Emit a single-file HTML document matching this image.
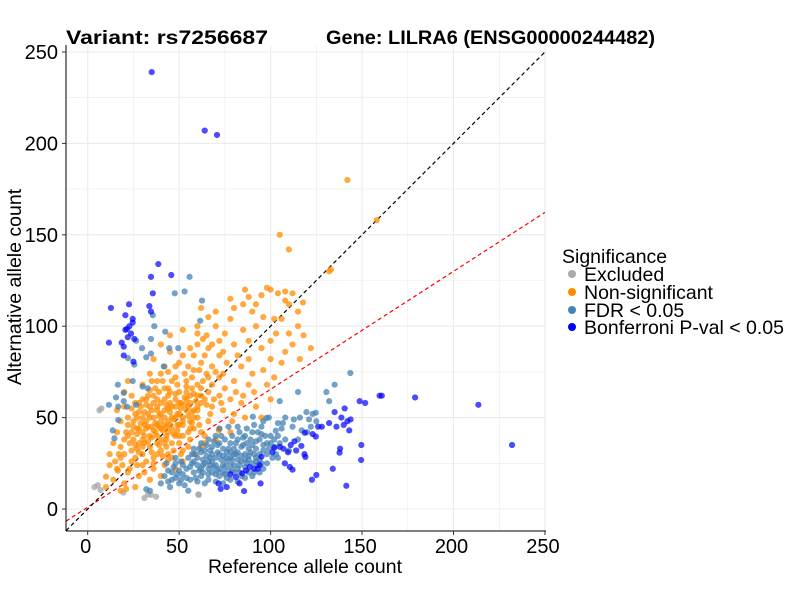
<!DOCTYPE html>
<html><head><meta charset="utf-8"><style>
body{margin:0;background:#fff;}
svg text{font-family:"Liberation Sans",Arial,sans-serif;}
</style></head><body>
<svg id="chart" width="800" height="600" xmlns="http://www.w3.org/2000/svg">
<rect width="800" height="600" fill="#fff"/>
<g id="grid"></g>
<g id="lines"></g>
<g id="points"></g>
<g id="axes"></g>
<text x="66" y="44" font-size="19" font-weight="bold" textLength="202" lengthAdjust="spacingAndGlyphs">Variant: rs7256687</text>
<text x="326" y="44" font-size="19" font-weight="bold" textLength="329" lengthAdjust="spacingAndGlyphs">Gene: LILRA6 (ENSG00000244482)</text>
<text x="305" y="573" font-size="19.5" text-anchor="middle">Reference allele count</text>
<text transform="translate(21,287) rotate(-90)" font-size="19.5" text-anchor="middle">Alternative allele count</text>
<g>
<text x="562" y="263" font-size="19.5">Significance</text>
<g><circle cx="572" cy="274" r="4" fill="#a9a9a9"/><text x="584" y="281" font-size="19.5">Excluded</text></g>
<g><circle cx="572" cy="292" r="4" fill="#ff8c00"/><text x="584" y="299" font-size="19.5">Non-significant</text></g>
<g><circle cx="572" cy="310" r="4" fill="#4682b4"/><text x="584" y="317" font-size="19.5">FDR &lt; 0.05</text></g>
<g><circle cx="572" cy="327" r="4" fill="#0000ff"/><text x="584" y="334" font-size="19.5">Bonferroni P-val &lt; 0.05</text></g>
</g>
</svg>
<script>
const xTicks=[0,50,100,150,200,250];
const yTicks=[0,50,100,150,200,250];
const excluded=[[6.4,54],[7.5,55],[3.7,12],[5.5,13],[7,10.4],[19.5,9],[31,6],[33,8],[34.6,7.7],[37.4,6.7],[60.7,7.7],[60.5,8]];
const nonsig=[[142,180],[158,158],[105,150],[110,142],[133,131],[132,130],[98,121],[100,120],[104,118],[108,119],[95,117],[88,116],[85,112],[80,110],[90,108],[96,105],[102,104],[110,112],[115,100],[103,96],[92,100],[85,98],[78,104],[75,96],[70,100],[65,95],[72,92],[80,90],[88,92],[95,88],[100,82],[108,86],[82,84],[74,86],[66,88],[60,90],[58,84],[62,80],[68,78],[76,80],[84,78],[90,74],[96,76],[102,72],[88,68],[80,70],[72,72],[65,74],[55,78],[50,80],[45,86],[40,90],[42,78],[48,72],[54,70],[60,68],[66,64],[72,62],[78,60],[84,58],[92,56],[100,60],[95,50],[86,50],[80,52],[74,54],[68,56],[62,58],[56,62],[50,64],[44,66],[38,70],[34,74],[30,68],[36,62],[42,60],[48,56],[54,54],[60,50],[66,48],[72,44],[78,42],[70,38],[64,40],[58,44],[52,46],[46,50],[40,52],[34,56],[28,58],[24,62],[20,56],[26,52],[32,48],[38,46],[44,42],[50,40],[56,38],[62,34],[58,30],[52,32],[46,36],[40,38],[34,40],[28,44],[22,46],[18,48],[16,42],[22,40],[28,36],[34,34],[40,32],[46,28],[52,26],[48,22],[42,24],[36,28],[30,30],[24,32],[18,34],[14,36],[12,30],[18,28],[24,26],[30,24],[36,22],[40,18],[34,16],[28,18],[22,20],[16,22],[12,24],[14,16],[20,14],[26,12],[18,10],[10,12],[30,42],[36,50],[42,54],[48,60],[32,60],[38,56],[44,48],[50,52],[56,58],[62,62],[68,68],[74,74],[40,44],[46,44],[52,50],[58,54],[35,45],[43,40],[27,50],[33,52],[39,64],[45,58],[51,58],[57,66],[63,70],[69,60],[75,66],[81,64],[25,38],[31,36],[37,42],[43,34],[49,46],[55,42],[61,46],[67,52],[73,58],[79,48],[85,62],[91,64],[20,30],[26,28],[32,26],[38,36],[44,30],[50,36],[56,48],[62,42],[45,95],[52,98],[60,100],[66,105],[78,115],[86,120],[92,112],[118,95],[122,88],[112,90],[106,80],[100,92],[20,64],[16,54],[22,70],[44,75],[36,82],[62,110],[70,108],[60,96],[116,82],[98,68],[88,82],[10,17.7],[16.5,21],[21,11],[117.7,113],[112,118],[108,114],[106,104],[115,108],[110,96],[71.7,43],[64,36],[38,30],[30,34],[42,46],[48,40],[54,60],[60,56],
[25,45],[27,41],[29,47],[31,53],[33,45],[35,39],[37,47],[39,51],[41,43],[43,57],[45,53],[47,49],[49,43],[51,55],[53,61],[55,51],[57,47],[59,59],[26,35],[28,31],[30,38],[32,44],[34,50],[36,58],[38,40],[40,48],[42,36],[44,62],[46,56],[48,50],[50,46],[52,40],[54,64],[56,44],[58,50],[60,62],[24,42],[29,56],[33,62],[37,66],[41,70],[45,64],[49,68],[53,74],[57,72],[61,76],[27,33],[31,40],[35,31],[39,35],[43,38],[47,32],[51,30],[55,34],[23,36],[21,42],[25,48],[30,50],[35,54],[40,58],[45,46],[50,58],[55,56],[39,45],[42,50],[36,43],[33,37],[47,41],[52,48],[57,53],[44,55],[38,60],[31,46],[27,44],[34,65],[46,70],[42,66],[48,63],[54,67],[62,66],[66,72],[70,75],[64,60],[58,63],[60,54],[65,57],[20,38],[17,30],[15,26],[19,24],[23,22],[27,24],[31,20],[44,27],[36,25],[41,29],[38,54],[43,45],[49,52],[53,57],[32,57],[28,53],[26,58],[22,50],[24,55],[30,60],[35,70],[40,74],[48,78],[52,84],[56,88],[64,84],[68,90],[72,84],[58,76],[63,93]];
const fdr=[[55.7,127],[47.6,118],[53,119],[62.5,114],[61.5,103],[35.6,106],[36.4,100],[42.4,97],[34.6,93],[29.7,88],[44.6,88],[49.5,88],[34.6,85],[32,83],[26.5,92],[22,82.6],[25.5,79],[41.6,78],[24.6,70],[16.5,68],[30,67],[32.8,66],[15.5,61],[19.7,63.5],[19.7,59],[11.6,57],[16.7,56],[21.5,56],[26.5,57],[16.7,48.7],[13.7,43],[14.6,38.7],[32,10.8],[34,10],
[105,59],[115,64],[130.5,64],[135,68],[143.6,74.4],[132,59],[119.6,53],[124.7,52.7],[123,52],[112.7,49],[116,50],[121,49],[106.7,47],[102.8,42.8],[97.8,49.8],[90.3,50.5],[82,45],[117,43],[122,45],
[42,18],[44,15],[46,20],[48,17],[50,14],[52,19],[54,22],[56,16],[58,20],[60,24],[62,18],[64,14],[66,22],[68,26],[70,19],[72,30],[74,24],[76,17],[78,28],[80,33],[82,22],[84,26],[86,30],[88,20],[90,35],[92,28],[94,38],[96,32],[98,25],[100,40],[102,34],[104,28],[106,44],[108,38],[110,32],[47,23],[51,26],[55,28],[59,30],[63,27],[67,32],[71,35],[75,38],[79,40],[83,42],[87,44],[91,46],[95,45],[53,13],[57,25],[61,21],[65,29],[69,23],[73,27],[77,21],[81,30],[85,35],[89,31],[93,24],[97,40],[101,28],[105,36],[58,33],[62,36],[66,38],[70,40],[74,33],[78,36],[82,38],[86,40],[90,42],[94,30],[98,36],[60,15],[64,25],[68,30],[72,22],[76,26],[80,24],[84,18],[88,27],[92,33],[96,22],[70,28],[74,20],[78,31],[82,27],[86,23],[62,31],[66,19],[50,21],[45,12],[40,14],[55,10],[48,28],[112,45],[115,38],[120,42],[125,48],[108,50],[104,47],[99,50],[96,48],[72,44],[77,45],
[56,23],[58,26],[60,28],[62,22],[64,32],[66,26],[68,20],[70,24],[72,18],[74,29],[76,31],[78,24],[80,20],[82,31],[84,34],[86,27],[88,33],[90,25],[92,37],[94,27],[96,35],[98,30],[59,17],[63,20],[67,28],[71,31],[75,23],[79,27],[83,24],[87,36],[91,30],[95,41],[99,33],[57,30],[61,33],[65,35],[69,37],[73,40],[77,33],[81,36],[85,39],[89,38],[93,42],[52,24],[54,17],[49,19],[46,16],[44,21],[43,25],[48,25],[51,16],[66,16],[70,15],[74,14],[78,16],[82,15],[86,17],[90,18],[94,20],[68,34],[72,36],[76,28],[80,30],[84,29],[88,29],[92,26],[63,24],[67,24],[71,21],[75,19],[79,21],[83,20],[87,25],[91,20],[95,25],[100,36],[102,38],[104,40],[103,30]];
const bonf=[[35,239],[64,207],[70.7,204.6],[38.6,134],[34.6,127],[45.7,128],[35.6,118],[33.7,111],[34.6,108],[22.6,112],[12.7,110],[20.6,106],[24.6,104],[24.6,102],[22.8,100],[20.6,98],[21.5,98.5],[23.7,96],[25.5,93],[21.9,94],[11.6,91],[18.6,91],[19.7,88.8],[19.7,84],[25,80.6],
[148.7,59],[151.7,58],[159.6,62],[160.8,62],[140.5,55],[135,53],[138.7,50],[142,48],[143.7,49],[140,46],[143,43],[136,45],[132,47],[128,45],[126,45],[123,41],[124.7,39.6],[118.7,41.7],[113,37],[111,35],[116.8,34.5],[118.5,30],[119,28.5],[114,32],[109.5,31],[107,33],[105,34],[101,31],[102,33.5],[95,28.6],[94,24],[93,22],[91,22],[88.5,23],[86.5,21],[84.5,19.5],[81,17.5],[78,19],[76,12],[72.7,11],[71.5,14],[83,14],[85.5,9.8],[94.5,14],[110.5,23],[112,21.5],[107.8,25],[125,18.6],[122.6,16],[134,22],[141.4,12.7],[149.6,35],[149.5,26.8],[138,33],[137.7,30.8],[179,61],[213.6,57],[232,35]];
const X0=87.7,XS=1.829,Y0=509,YS=1.828,L=66,R=546,T=45,B=531;
const sx=v=>X0+v*XS, sy=v=>Y0-v*YS;
const NS="http://www.w3.org/2000/svg";
function mk(tag,attrs,parent){const e=document.createElementNS(NS,tag);for(const k in attrs)e.setAttribute(k,attrs[k]);parent.appendChild(e);return e;}
const grid=document.getElementById('grid');
for(let v=0;v<=250;v+=25){
  const gx=mk('line',{x1:sx(v),x2:sx(v),y1:T,y2:B,stroke:'#ebebeb','stroke-width':v%50?0.6:1.1},grid);
  
  
  const gy=mk('line',{x1:L,x2:R,y1:sy(v),y2:sy(v),stroke:'#ebebeb','stroke-width':v%50?0.6:1.1},grid);
  
  
}
const lines=document.getElementById('lines');
const xa=-11.8,xb=250;
const rl=mk('line',{x1:sx(xa),y1:sy(0.645*xa+1),x2:sx(xb),y2:sy(0.645*xb+1),stroke:'#ff0000','stroke-width':1.2,'stroke-dasharray':'4,3'},lines);


const bl=mk('line',{x1:sx(-11.8),y1:sy(-11.8),x2:sx(250),y2:sy(250),stroke:'#000','stroke-width':1.2,'stroke-dasharray':'4,3'},lines);


const pts=document.getElementById('points');
function draw(arr,col,op,name){arr.forEach(p=>{const c=mk('circle',{cx:sx(p[0]),cy:sy(p[1]),r:3.1,fill:col,'fill-opacity':op},pts);

});}
draw(excluded,'#a9a9a9',0.8,'point-excluded');
draw(nonsig,'#ff8c00',0.75,'point-non-significant');
draw(fdr,'#4682b4',0.75,'point-fdr');
draw(bonf,'#0000ff',0.7,'point-bonferroni');
const ax=document.getElementById('axes');
mk('line',{x1:L,x2:L,y1:T,y2:B,stroke:'#000','stroke-width':1},ax);
mk('line',{x1:L,x2:R,y1:B,y2:B,stroke:'#000','stroke-width':1},ax);
xTicks.forEach(v=>{mk('line',{x1:sx(v),x2:sx(v),y1:B,y2:B+4,stroke:'#333'},ax);
const t=mk('text',{x:sx(v)-2,y:B+22,'font-size':20,'text-anchor':'middle',fill:'#000'},ax);t.textContent=v;

});
yTicks.forEach(v=>{mk('line',{x1:L-4,x2:L,y1:sy(v),y2:sy(v),stroke:'#333'},ax);
const t=mk('text',{x:L-8,y:sy(v)+7,'font-size':20,'text-anchor':'end',fill:'#000'},ax);t.textContent=v;

});
</script>
</body></html>
